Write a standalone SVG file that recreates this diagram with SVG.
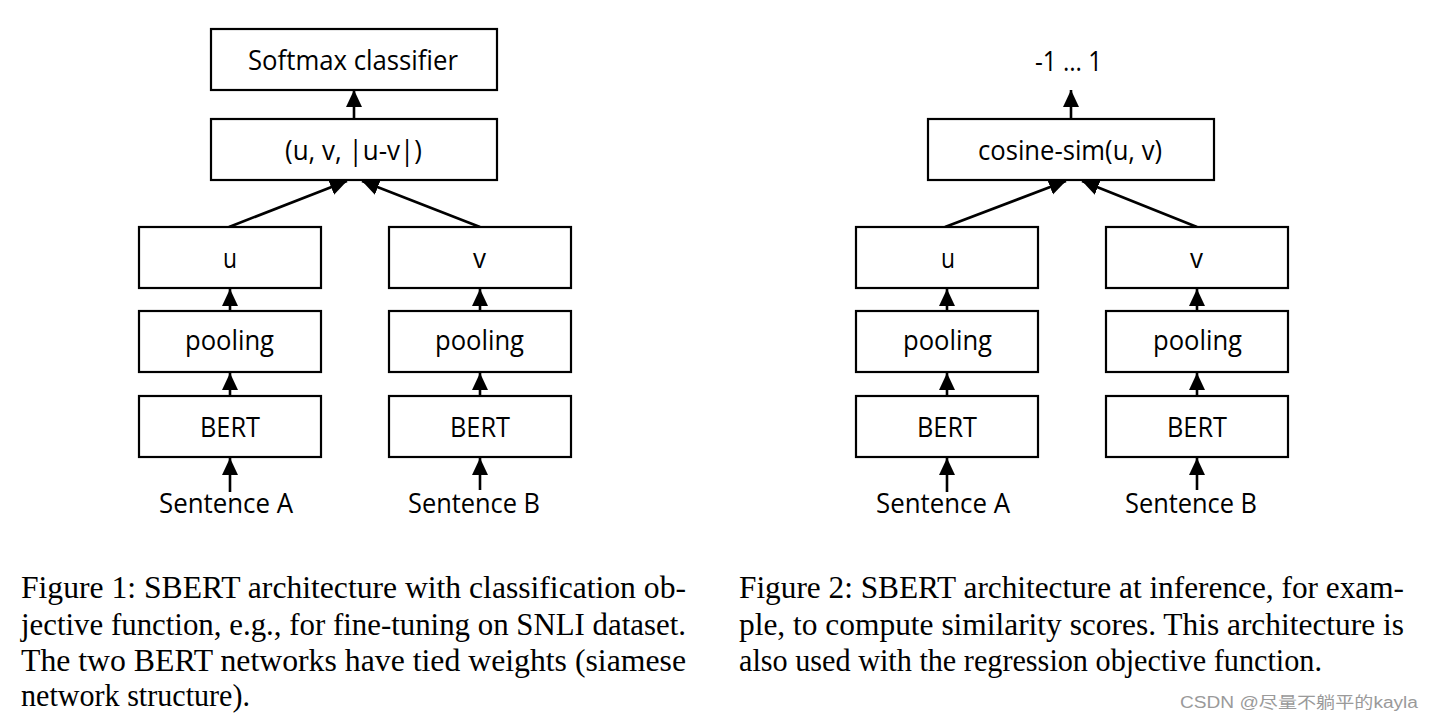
<svg xmlns="http://www.w3.org/2000/svg" width="1432" height="722" viewBox="0 0 1432 722">
<style>
.box{fill:#fff;stroke:#000;stroke-width:2.2}
.lbl{font-family:"Open Sans","Noto Sans",sans-serif;font-size:27px;fill:#000}
.cap{font-family:"Liberation Serif","Times New Roman",serif;font-size:31px;fill:#000}
.wm{font-family:"Liberation Sans","Noto Sans CJK SC",sans-serif;font-size:16px;fill:#9a9a9a}
.edge{stroke:#000;stroke-width:2.6;fill:none;marker-end:url(#ah)}
</style>
<defs>
<marker id="ah" markerUnits="userSpaceOnUse" markerWidth="18" markerHeight="18" viewBox="0 0 18 18" refX="17" refY="9" orient="auto">
<path d="M0,1 L17,9 L0,17 Z" fill="#000"/>
</marker>
</defs>
<rect width="1432" height="722" fill="#fff"/>

<g id="connectors">
<!-- left diagram -->
<line class="edge" x1="354" y1="119" x2="354" y2="90"/>
<line class="edge" x1="229" y1="227" x2="347" y2="181"/>
<line class="edge" x1="480" y1="227" x2="362" y2="181"/>
<line class="edge" x1="230" y1="311" x2="230" y2="289"/>
<line class="edge" x1="230" y1="396" x2="230" y2="373"/>
<line class="edge" x1="230" y1="492" x2="230" y2="458"/>
<line class="edge" x1="480" y1="311" x2="480" y2="289"/>
<line class="edge" x1="480" y1="396" x2="480" y2="373"/>
<line class="edge" x1="480" y1="490" x2="480" y2="458"/>
<!-- right diagram -->
<line class="edge" x1="1071" y1="119" x2="1071" y2="90"/>
<line class="edge" x1="945" y1="227" x2="1066" y2="181"/>
<line class="edge" x1="1197" y1="227" x2="1082" y2="181"/>
<line class="edge" x1="947" y1="311" x2="947" y2="289"/>
<line class="edge" x1="947" y1="396" x2="947" y2="373"/>
<line class="edge" x1="947" y1="492" x2="947" y2="458"/>
<line class="edge" x1="1197" y1="311" x2="1197" y2="289"/>
<line class="edge" x1="1197" y1="396" x2="1197" y2="373"/>
<line class="edge" x1="1197" y1="490" x2="1197" y2="458"/>
</g>

<!-- Left diagram nodes -->
<g id="softmax"><rect class="box" x="211" y="29" width="286" height="61"/><text class="lbl" x="248" y="69.5" textLength="210" lengthAdjust="spacingAndGlyphs">Softmax classifier</text></g>
<g id="concat"><rect class="box" x="211" y="119" width="286" height="61"/><text class="lbl" x="285" y="160" textLength="137" lengthAdjust="spacingAndGlyphs">(u, v, |u-v|)</text></g>
<g id="u-left"><rect class="box" x="139" y="227" width="182" height="61"/><text class="lbl" x="223" y="268" textLength="14" lengthAdjust="spacingAndGlyphs">u</text></g>
<g id="v-left"><rect class="box" x="389" y="227" width="182" height="61"/><text class="lbl" x="473" y="268" textLength="13" lengthAdjust="spacingAndGlyphs">v</text></g>
<g id="pooling-a-left"><rect class="box" x="139" y="311" width="182" height="61"/><text class="lbl" x="185" y="350" textLength="89" lengthAdjust="spacingAndGlyphs">pooling</text></g>
<g id="pooling-b-left"><rect class="box" x="389" y="311" width="182" height="61"/><text class="lbl" x="435" y="350" textLength="89" lengthAdjust="spacingAndGlyphs">pooling</text></g>
<g id="bert-a-left"><rect class="box" x="139" y="396" width="182" height="61"/><text class="lbl" x="200" y="437" textLength="60" lengthAdjust="spacingAndGlyphs">BERT</text></g>
<g id="bert-b-left"><rect class="box" x="389" y="396" width="182" height="61"/><text class="lbl" x="450" y="437" textLength="60" lengthAdjust="spacingAndGlyphs">BERT</text></g>
<g id="sent-a-left"><text class="lbl" x="159" y="513" textLength="134" lengthAdjust="spacingAndGlyphs">Sentence A</text></g>
<g id="sent-b-left"><text class="lbl" x="408" y="513" textLength="132" lengthAdjust="spacingAndGlyphs">Sentence B</text></g>

<!-- Right diagram nodes -->
<g id="score"><text class="lbl" x="1035" y="71" textLength="67" lengthAdjust="spacingAndGlyphs">-1 … 1</text></g>
<g id="cosine"><rect class="box" x="928" y="119" width="286" height="61"/><text class="lbl" x="978" y="160" textLength="184" lengthAdjust="spacingAndGlyphs">cosine-sim(u, v)</text></g>
<g id="u-right"><rect class="box" x="856" y="227" width="182" height="61"/><text class="lbl" x="941" y="268" textLength="14" lengthAdjust="spacingAndGlyphs">u</text></g>
<g id="v-right"><rect class="box" x="1106" y="227" width="182" height="61"/><text class="lbl" x="1190" y="268" textLength="13" lengthAdjust="spacingAndGlyphs">v</text></g>
<g id="pooling-a-right"><rect class="box" x="856" y="311" width="182" height="61"/><text class="lbl" x="903" y="350" textLength="89" lengthAdjust="spacingAndGlyphs">pooling</text></g>
<g id="pooling-b-right"><rect class="box" x="1106" y="311" width="182" height="61"/><text class="lbl" x="1153" y="350" textLength="89" lengthAdjust="spacingAndGlyphs">pooling</text></g>
<g id="bert-a-right"><rect class="box" x="856" y="396" width="182" height="61"/><text class="lbl" x="917" y="437" textLength="60" lengthAdjust="spacingAndGlyphs">BERT</text></g>
<g id="bert-b-right"><rect class="box" x="1106" y="396" width="182" height="61"/><text class="lbl" x="1167" y="437" textLength="60" lengthAdjust="spacingAndGlyphs">BERT</text></g>
<g id="sent-a-right"><text class="lbl" x="876" y="513" textLength="134" lengthAdjust="spacingAndGlyphs">Sentence A</text></g>
<g id="sent-b-right"><text class="lbl" x="1125" y="513" textLength="132" lengthAdjust="spacingAndGlyphs">Sentence B</text></g>

<!-- Captions -->
<g id="caption-1">
<text class="cap" x="21" y="598" textLength="665" lengthAdjust="spacingAndGlyphs">Figure 1:  SBERT architecture with classification ob-</text>
<text class="cap" x="21" y="634.5" textLength="665" lengthAdjust="spacingAndGlyphs">jective function, e.g., for fine-tuning on SNLI dataset.</text>
<text class="cap" x="21" y="670.5" textLength="665" lengthAdjust="spacingAndGlyphs">The two BERT networks have tied weights (siamese</text>
<text class="cap" x="21" y="706" textLength="229" lengthAdjust="spacingAndGlyphs">network structure).</text>
</g>
<g id="caption-2">
<text class="cap" x="739" y="598" textLength="665" lengthAdjust="spacingAndGlyphs">Figure 2:  SBERT architecture at inference, for exam-</text>
<text class="cap" x="739" y="634.5" textLength="665" lengthAdjust="spacingAndGlyphs">ple, to compute similarity scores.  This architecture is</text>
<text class="cap" x="739" y="670.5" textLength="583" lengthAdjust="spacingAndGlyphs">also used with the regression objective function.</text>
</g>
<g id="watermark"><text class="wm" x="1180" y="708" textLength="238" lengthAdjust="spacingAndGlyphs">CSDN @尽量不躺平的kayla</text></g>
</svg>
